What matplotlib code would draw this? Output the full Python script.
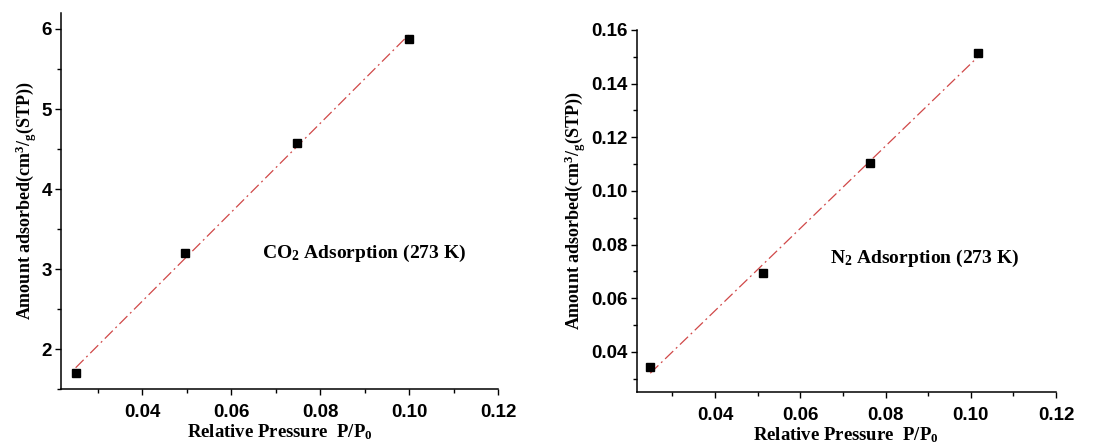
import numpy as np
import matplotlib
matplotlib.use("Agg")
import matplotlib.pyplot as plt
from matplotlib.ticker import MultipleLocator

# --- dati ---
p_co2 = [0.0250, 0.0495, 0.0748, 0.1001]
q_co2 = [1.70, 3.20, 4.58, 5.88]

p_n2 = [0.0248, 0.0512, 0.0764, 0.1016]
q_n2 = [0.0343, 0.0695, 0.1103, 0.1515]

x_ticks = [0.04, 0.06, 0.08, 0.10, 0.12]
y_ticks_co2 = [2, 3, 4, 5, 6]
y_ticks_n2 = [0.04, 0.06, 0.08, 0.10, 0.12, 0.14, 0.16]

label_co2 = "CO$_2$ Adsorption (273 K)"
label_n2 = "N$_2$ Adsorption (273 K)"

plt.rcParams['font.family'] = 'Liberation Sans'
plt.rcParams['font.weight'] = 'bold'
plt.rcParams['mathtext.fontset'] = 'custom'
plt.rcParams['mathtext.rm'] = 'Liberation Serif:bold'
plt.rcParams['mathtext.it'] = 'Liberation Serif:bold'
plt.rcParams['mathtext.bf'] = 'Liberation Serif:bold'

serif = dict(family='Liberation Serif', fontweight='bold')


def pannello(ax, x, y, yticks, ylim, xlim, minor_y, testo, pos_testo, fmt):
    # retta di regressione
    m, q = np.polyfit(x, y, 1)
    xx = np.array([x[0], x[-1]])
    ax.plot(xx, m * xx + q, color='#d04848', linewidth=0.9,
            linestyle=(0, (9, 3, 1.5, 3)))
    ax.plot(x, y, 's', color='black', markersize=5.5)

    ax.set_xlim(*xlim)
    ax.set_ylim(*ylim)
    ax.set_xticks(x_ticks)
    ax.set_xticklabels([f"{v:.2f}" for v in x_ticks])
    ax.xaxis.set_minor_locator(MultipleLocator(0.01))
    ax.set_yticks(yticks)
    ax.set_yticklabels([fmt.format(v) for v in yticks])
    ax.yaxis.set_minor_locator(MultipleLocator(minor_y))

    for s in ['top', 'right']:
        ax.spines[s].set_visible(False)
    for s in ['left', 'bottom']:
        ax.spines[s].set_linewidth(1.1)

    ax.tick_params(axis='both', which='major', length=4.5, width=1,
                   direction='out', labelsize=13.5)
    ax.tick_params(axis='both', which='minor', length=3, width=1,
                   direction='out')
    ax.tick_params(axis='x', which='major', pad=6)
    ax.tick_params(axis='y', which='major', pad=2)

    ax.set_xlabel("Relative Pressure  P/P$_0$", fontsize=13.5, labelpad=1, **serif)
    ax.set_ylabel("Amount adsorbed(cm$^3$/$_g$(STP))", fontsize=13, labelpad=2, **serif)
    ax.text(pos_testo[0], pos_testo[1], testo, fontsize=14, va='center', **serif)


fig = plt.figure(figsize=(11.13, 4.45), dpi=100)
ax1 = fig.add_axes([0.0548, 0.1258, 0.3926, 0.845])
ax2 = fig.add_axes([0.572, 0.1184, 0.3768, 0.8142])

pannello(ax1, p_co2, q_co2, y_ticks_co2, (1.5, 6.2), (0.0217, 0.12), 0.5,
         label_co2, (0.067, 3.19), "{:d}")
pannello(ax2, p_n2, q_n2, y_ticks_n2, (0.0249, 0.16), (0.0216, 0.12), 0.01,
         label_n2, (0.067, 0.075), "{:.2f}")

fig.savefig("out.png", dpi=100)
